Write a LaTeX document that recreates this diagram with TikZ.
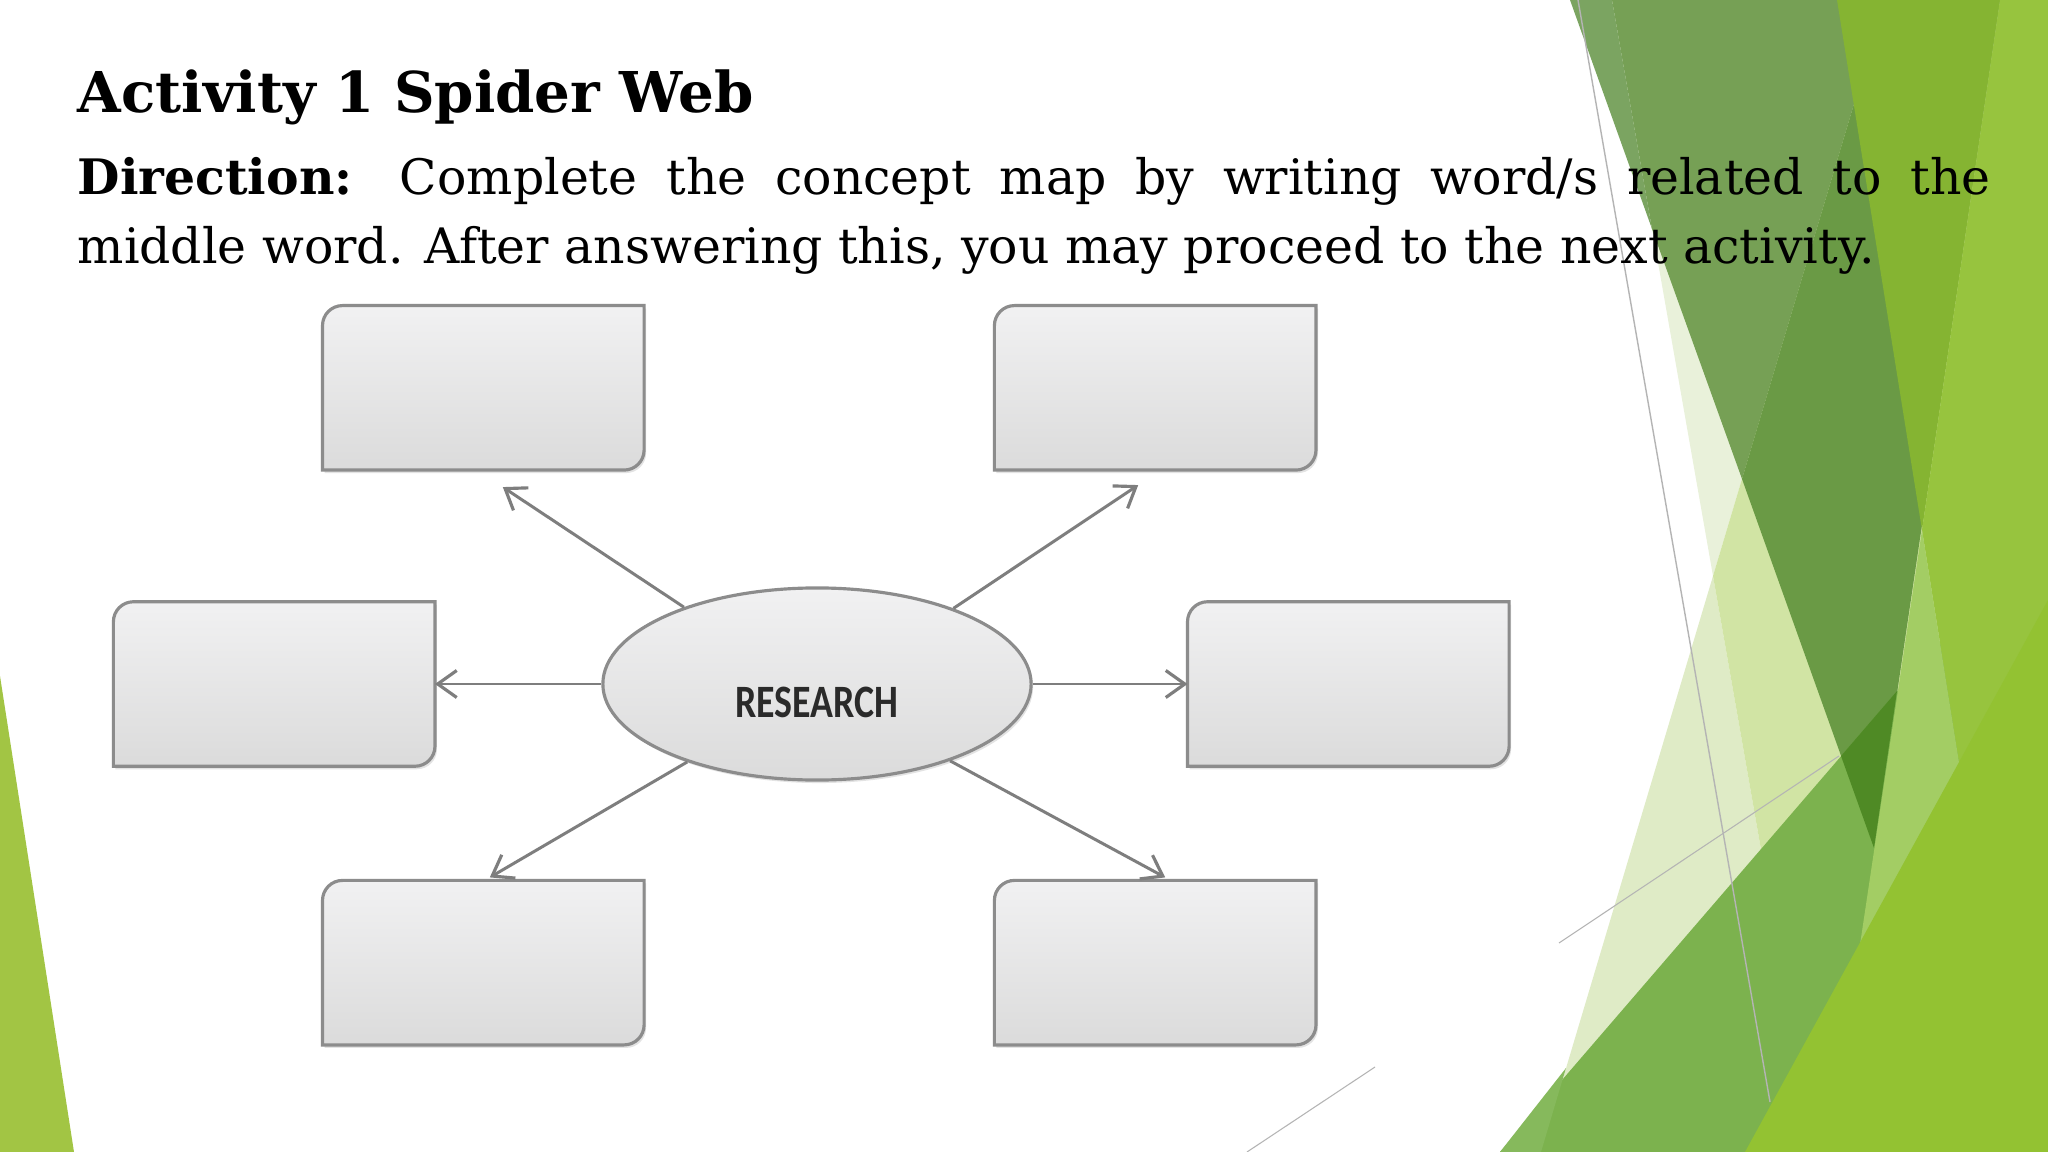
\documentclass[tikz,border=0pt]{standalone}
\usepackage{fontspec}
\setmainfont{DejaVu Serif}
\newfontfamily\mapfont{Carlito}
\usepackage{tikz}
\usetikzlibrary{
	positioning,
	arrows.meta,
	shapes.geometric,
	shadows
}

\definecolor{boxedge}{HTML}{8C8C8C}
\definecolor{boxtop}{HTML}{F1F1F2}
\definecolor{boxbot}{HTML}{DBDBDB}
\definecolor{linkgray}{HTML}{7E7E7E}
\definecolor{wordgray}{HTML}{2A2A2A}
\definecolor{leafgreen}{HTML}{A2C544}
\definecolor{paleA}{HTML}{E9F1DA}
\definecolor{paleB}{HTML}{DFEBC6}
\definecolor{paleC}{HTML}{D1E4A4}
\definecolor{oliveA}{HTML}{7BA461}
\definecolor{oliveB}{HTML}{76A055}
\definecolor{oliveC}{HTML}{6A9A45}
\definecolor{midgreen}{HTML}{7CB24E}
\definecolor{midlight}{HTML}{86B95C}
\definecolor{deepgreen}{HTML}{4F8A25}
\definecolor{brightgreen}{HTML}{85B432}
\definecolor{limeA}{HTML}{97C43E}
\definecolor{limeB}{HTML}{A3CD64}
\definecolor{limeC}{HTML}{93C232}
\definecolor{hairline}{HTML}{B4B4B4}

\tikzset{
	blank/.style={rectangle,minimum width=3.2cm,minimum height=1.63cm,inner sep=0pt},
	leaf/.style={draw=boxedge,line width=0.9pt,top color=boxtop,bottom color=boxbot,
		drop shadow={shadow xshift=0.02cm,shadow yshift=-0.03cm,opacity=0.22}},
	topic/.style={ellipse,draw=boxedge,line width=0.9pt,top color=boxtop,bottom color=boxbot,
		minimum width=4.28cm,minimum height=1.92cm,inner sep=0pt,
		drop shadow={shadow xshift=0.02cm,shadow yshift=-0.03cm,opacity=0.22}},
	link/.style={draw=linkgray,line width=0.85pt,-{Straight Barb[length=0.19cm,width=0.27cm,line width=0.9pt]}}
}

\begin{document}
\begin{tikzpicture}[x=0.01cm,y=-0.01cm]
		\useasboundingbox (0,0) rectangle (2048,1152);
		\fill[white] (0,0) rectangle (2048,1152);

		% green facets of the slide
		\fill[leafgreen]   (0,676) -- (74,1152) -- (0,1152) -- cycle;
		\fill[paleA]       (1612,0) -- (1885,0) -- (1713,576) -- cycle;
		\fill[paleB]       (1713,576) -- (1814,1152) -- (1541,1152) -- cycle;
		\fill[paleC]       (1885,0) -- (2048,0) -- (2048,1152) -- (1814,1152) -- (1713,576) -- cycle;
		\fill[oliveA]      (1570,0) -- (1612,0) -- (1652,229) -- cycle;
		\fill[oliveB]      (1612,0) -- (1885,0) -- (1742,479) -- (1652,229) -- cycle;
		\fill[oliveC]      (1885,0) -- (2000,0) -- (1874,848) -- (1742,479) -- cycle;
		\fill[midgreen]    (1500,1152) -- (2048,516) -- (2048,1152) -- cycle;
		\fill[midlight]    (1500,1152) -- (1566,1068) -- (1541,1152) -- cycle;
		\fill[deepgreen]   (1841,756) -- (1897,691) -- (1874,848) -- cycle;
		\fill[brightgreen] (1837,0) -- (2000,0) -- (1922,530) -- cycle;
		\fill[limeA]       (2000,0) -- (2048,0) -- (2048,1152) -- (2021,1152) -- (1922,530) -- cycle;
		\fill[limeB]       (1922,530) -- (2021,1152) -- (1829,1152) -- cycle;
		\fill[limeC]       (1745,1152) -- (2048,600) -- (2048,1152) -- cycle;
		\draw[hairline,line width=0.4pt] (1578,0) -- (1770,1102);
		\draw[hairline,line width=0.3pt] (1559,943) -- (1839,756);
		\draw[hairline,line width=0.3pt] (1247,1152) -- (1375,1067);

		% heading
		\node[anchor=base west,inner sep=0pt,font=\fontsize{16pt}{19pt}\selectfont\bfseries] (title) at (77,113)
			{Activity 1 Spider Web};
		\node[anchor=base west,inner sep=0pt,text width=19.12cm,align=justify,
			font=\fontsize{13.9pt}{19.35pt}\selectfont] (task) at (77,195)
			{\textbf{Direction:} Complete the concept map by writing word/s related to the\linebreak
			middle word. After answering this, you may proceed to the next activity.};

		% concept map
		\draw
			node[topic]                                          (w0) at (817,684)
				{\mapfont\bfseries\fontsize{13.2pt}{13.2pt}\selectfont\color{wordgray}%
				\raisebox{-0.33cm}[0pt][0pt]{\scalebox{0.815}[1]{RESEARCH}}}
			node[blank,on grid,above left=2.96cm and 3.335cm of w0]  (w1) {}
			node[blank,on grid,above right=2.96cm and 3.38cm of w0]  (w2) {}
			node[blank,on grid,left=5.425cm of w0]                   (w3) {}
			node[blank,on grid,right=5.31cm of w0]                   (w4) {}
			node[blank,on grid,below left=2.785cm and 3.335cm of w0] (w5) {}
			node[blank,on grid,below right=2.785cm and 3.38cm of w0] (w6) {}
		;

		\foreach \n in {1,...,6}
			\draw[leaf] (w\n.north east) -- ([xshift=0.2cm]w\n.north west)
				arc[start angle=90,end angle=180,radius=0.2cm] -- (w\n.south west)
				-- ([xshift=-0.2cm]w\n.south east)
				arc[start angle=270,end angle=360,radius=0.2cm] -- cycle;

		\draw[link] (w0.150.6) -- ([shift={(0.195cm,-0.17cm)}]w1.south);
		\draw[link] (w0.29.1)  -- ([shift={(-0.17cm,-0.15cm)}]w2.south);
		\draw[link] (w0.180)   -- (w3.east);
		\draw[link] (w0.0)     -- (w4.west);
		\draw[link] (w0.211.2) -- ([shift={(0.065cm,0.03cm)}]w5.north);
		\draw[link] (w0.330.3) -- ([shift={(0.1cm,0.03cm)}]w6.north);
\end{tikzpicture}
\end{document}
